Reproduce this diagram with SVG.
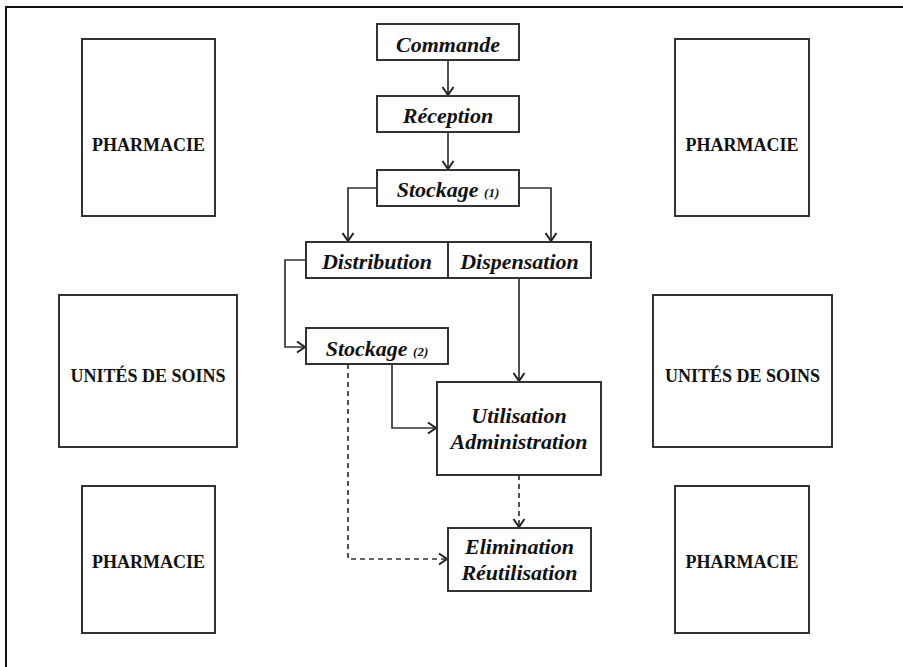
<svg xmlns="http://www.w3.org/2000/svg" width="903" height="667" viewBox="0 0 903 667">
<style>
.box{fill:#fff;stroke:#333;stroke-width:2}
.lbl{font-family:"Liberation Serif",serif;font-weight:bold;font-size:18px;fill:#111;text-anchor:middle}
.st{font-family:"Liberation Serif",serif;font-weight:bold;font-style:italic;font-size:22px;fill:#111;text-anchor:middle}
.sm{font-size:13px}
.ln{fill:none;stroke:#333;stroke-width:1.7}
.dash{stroke-dasharray:5,4}
</style>
<defs>
<marker id="ah" markerWidth="14" markerHeight="14" viewBox="0 0 14 14" refX="12" refY="7" orient="auto" markerUnits="userSpaceOnUse">
<path d="M4,1.5 L12,7 L4,12.5" fill="none" stroke="#222" stroke-width="2"/>
</marker>
</defs>
<rect width="903" height="667" fill="#fff"/>
<path d="M6,667 L6,7 L903,7" fill="none" stroke="#111" stroke-width="2"/>

<g id="pharmacie-tl"><rect class="box" x="82" y="39" width="133" height="177"/><text class="lbl" x="148.5" y="151">PHARMACIE</text></g>
<g id="pharmacie-tr"><rect class="box" x="675" y="39" width="134" height="177"/><text class="lbl" x="742" y="151">PHARMACIE</text></g>
<g id="unites-l"><rect class="box" x="59" y="295" width="178" height="152"/><text class="lbl" x="148" y="382">UNITÉS DE SOINS</text></g>
<g id="unites-r"><rect class="box" x="653" y="295" width="179" height="152"/><text class="lbl" x="742.5" y="382">UNITÉS DE SOINS</text></g>
<g id="pharmacie-bl"><rect class="box" x="82" y="486" width="133" height="147"/><text class="lbl" x="148.5" y="568">PHARMACIE</text></g>
<g id="pharmacie-br"><rect class="box" x="675" y="486" width="134" height="147"/><text class="lbl" x="742" y="568">PHARMACIE</text></g>

<g id="connectors">
<path class="ln" d="M448,60 L448,95" marker-end="url(#ah)"/>
<path class="ln" d="M448,132 L448,169" marker-end="url(#ah)"/>
<path class="ln" d="M377,188 L348,188 L348,241" marker-end="url(#ah)"/>
<path class="ln" d="M519,188 L551,188 L551,241" marker-end="url(#ah)"/>
<path class="ln" d="M306,260 L285,260 L285,347 L305,347" marker-end="url(#ah)"/>
<path class="ln" d="M519,278 L519,381" marker-end="url(#ah)"/>
<path class="ln" d="M392,364 L392,428 L436,428" marker-end="url(#ah)"/>
<path class="ln dash" d="M519,475 L519,527" marker-end="url(#ah)"/>
<path class="ln dash" d="M348,364 L348,559 L447,559" marker-end="url(#ah)"/>
</g>

<g id="commande"><rect class="box" x="377" y="24" width="142" height="36"/><text class="st" x="448" y="52">Commande</text></g>
<g id="reception"><rect class="box" x="377" y="96" width="142" height="36"/><text class="st" x="448" y="123">Réception</text></g>
<g id="stockage1"><rect class="box" x="377" y="170" width="142" height="36"/><text class="st" x="448" y="197">Stockage <tspan class="sm">(1)</tspan></text></g>
<g id="distribution"><rect class="box" x="306" y="242" width="142" height="36"/><text class="st" x="377" y="269">Distribution</text></g>
<g id="dispensation"><rect class="box" x="448" y="242" width="143" height="36"/><text class="st" x="519.5" y="269">Dispensation</text></g>
<g id="stockage2"><rect class="box" x="306" y="328" width="142" height="36"/><text class="st" x="377" y="356">Stockage <tspan class="sm">(2)</tspan></text></g>
<g id="utilisation"><rect class="box" x="437" y="382" width="164" height="93"/><text class="st" x="519" y="423">Utilisation</text><text class="st" x="519" y="449">Administration</text></g>
<g id="elimination"><rect class="box" x="448" y="528" width="143" height="63"/><text class="st" x="519.5" y="554">Elimination</text><text class="st" x="519.5" y="580">Réutilisation</text></g>
</svg>
